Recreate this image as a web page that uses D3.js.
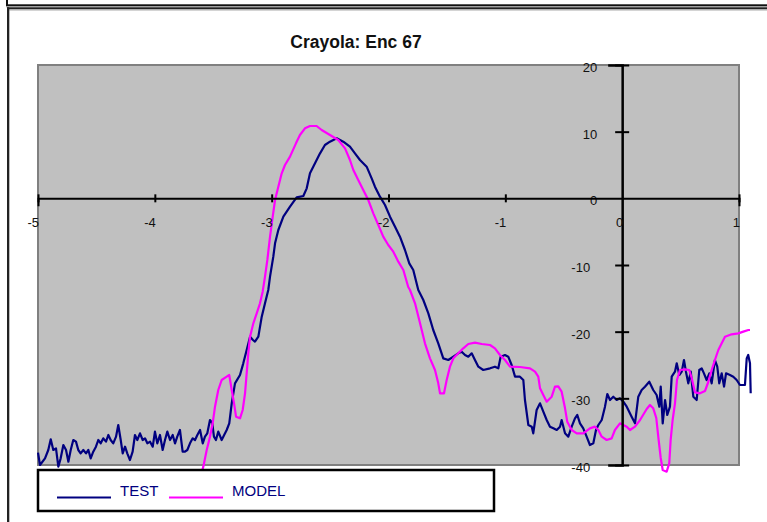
<!DOCTYPE html>
<html>
<head>
<meta charset="utf-8">
<script src="https://cdn.jsdelivr.net/npm/d3@7"></script>
<style>
  html, body { margin: 0; padding: 0; background: #fff; }
  svg { display: block; }
  text { font-family: "Liberation Sans", Arial, sans-serif; }
</style>
</head>
<body>
<svg id="chart" width="767" height="522"></svg>
<script>
const chartTitle = "Crayola: Enc 67";
const seriesNames = ["TEST", "MODEL"];
const seriesColors = ["#000080", "#FF00FF"];
const xTicks = [-5, -4, -3, -2, -1, 0, 1];
const yTicks = [20, 10, 0, -10, -20, -30, -40];

const testData = [
[-5.00,-38.15],[-4.983,-40.0],[-4.94,-39.0],[-4.912,-37.75],[-4.891,-36.15],[-4.869,-37.75],[-4.846,-37.5],[-4.826,-40.25],[-4.806,-39.0],[-4.783,-37.0],[-4.76,-37.75],[-4.74,-39.5],[-4.72,-37.75],[-4.698,-36.25],[-4.675,-36.5],[-4.655,-37.75],[-4.635,-38.25],[-4.612,-37.75],[-4.589,-38.25],[-4.569,-37.75],[-4.549,-39.0],[-4.527,-38.0],[-4.504,-37.25],[-4.484,-36.25],[-4.463,-36.75],[-4.441,-36.0],[-4.418,-36.5],[-4.398,-35.5],[-4.378,-36.25],[-4.356,-36.75],[-4.332,-35.75],[-4.313,-34.0],[-4.292,-36.25],[-4.275,-38.25],[-4.255,-37.25],[-4.236,-38.25],[-4.213,-39.25],[-4.19,-38.0],[-4.17,-35.5],[-4.15,-36.25],[-4.127,-35.25],[-4.104,-36.25],[-4.084,-36.0],[-4.064,-36.75],[-4.041,-36.5],[-4.018,-37.25],[-3.999,-35.0],[-3.979,-36.75],[-3.956,-35.5],[-3.933,-37.75],[-3.913,-36.25],[-3.893,-35.0],[-3.87,-36.25],[-3.847,-35.5],[-3.827,-36.75],[-3.808,-35.75],[-3.785,-34.75],[-3.762,-38.0],[-3.742,-38.0],[-3.722,-37.75],[-3.699,-36.75],[-3.676,-36.0],[-3.656,-36.25],[-3.636,-35.5],[-3.613,-34.75],[-3.59,-36.75],[-3.571,-35.75],[-3.551,-35.25],[-3.528,-33.25],[-3.508,-33.75],[-3.494,-35.75],[-3.477,-36.25],[-3.457,-35.0],[-3.428,-36.25],[-3.414,-35.75],[-3.385,-34.75],[-3.363,-33.75],
[-3.342,-30.75],[-3.314,-27.75],[-3.271,-26.5],[-3.243,-24.75],[-3.214,-22.75],[-3.185,-20.75],[-3.16,-21.25],[-3.143,-21.5],[-3.114,-20.75],[-3.085,-17.75],[-3.057,-15.75],[-3.029,-13.75],[-3.014,-11.75],[-2.986,-8.75],[-2.971,-6.75],[-2.943,-4.75],[-2.9,-2.75],[-2.843,-1.25],[-2.786,0.15],[-2.729,0.35],[-2.7,1.5],[-2.672,3.75],[-2.629,5.25],[-2.586,6.75],[-2.544,8.0],[-2.501,8.5],[-2.443,9.0],[-2.387,8.5],[-2.33,7.75],[-2.287,6.75],[-2.244,5.75],[-2.187,4.75],[-2.144,3.0],[-2.116,1.75],[-2.073,0.25],[-2.03,-1.0],[-1.987,-2.75],[-1.944,-4.25],[-1.902,-5.75],[-1.859,-7.75],[-1.822,-9.75],[-1.788,-10.75],[-1.745,-13.75],[-1.702,-15.25],[-1.659,-17.25],[-1.617,-19.75],[-1.574,-21.75],[-1.531,-24.0],[-1.488,-24.25],[-1.445,-23.75],[-1.403,-23.25],[-1.374,-23.0],[-1.345,-23.5],[-1.317,-23.75],[-1.288,-23.25],[-1.26,-24.25],[-1.231,-25.25],[-1.189,-25.75],[-1.131,-25.5],[-1.089,-25.25],[-1.06,-25.5],[-1.04,-23.75],[-1.003,-23.5],[-0.975,-23.75],[-0.946,-25.0],[-0.917,-26.75],[-0.875,-26.75],[-0.846,-27.25],[-0.832,-30.25],[-0.803,-34.0],[-0.774,-34.25],[-0.761,-35.25],[-0.732,-31.75],[-0.703,-30.75],[-0.675,-32.0],[-0.646,-33.25],[-0.618,-34.25],[-0.589,-34.5],[-0.56,-34.75],[-0.532,-34.25],[-0.518,-33.25],[-0.489,-35.25],[-0.461,-35.75],[-0.432,-34.25],[-0.404,-33.0],[-0.384,-32.5],[-0.361,-33.75],[-0.333,-34.5],[-0.304,-35.75],[-0.276,-37.0],[-0.247,-36.75],[-0.224,-34.75],[-0.204,-34.0],[-0.175,-33.25],[-0.147,-31.25],[-0.127,-29.35],[-0.104,-30.25],[-0.076,-29.75],[-0.047,-30.25],[-0.019,-30.0],[0.01,-30.5],[0.039,-31.25],[0.081,-32.75],[0.11,-33.75],[0.138,-29.75],[0.167,-28.75],[0.195,-28.25],[0.232,-27.5],[0.266,-28.75],[0.295,-29.5],[0.318,-31.25],[0.33,-28.25],[0.347,-33.75],[0.367,-30.25],[0.386,-32.5],[0.409,-31.25],[0.424,-26.75],[0.452,-26.0],[0.467,-24.75],[0.489,-26.5],[0.51,-26.0],[0.529,-24.25],[0.546,-26.0],[0.566,-27.75],[0.587,-26.0],[0.609,-29.75],[0.638,-30.25],[0.66,-25.75],[0.681,-25.5],[0.7,-26.25],[0.723,-27.25],[0.746,-26.25],[0.766,-27.75],[0.78,-26.0],[0.794,-24.25],[0.814,-25.25],[0.831,-27.75],[0.852,-26.25],[0.872,-28.25],[0.889,-26.25],[0.923,-26.5],[0.951,-26.75],[0.98,-27.25],[1.008,-28.0],[1.051,-28.0],[1.066,-24.0],[1.079,-23.5],[1.094,-24.75],[1.1,-29.25]
];

const modelData = [
[-3.605,-41.5],[-3.585,-40.25],[-3.556,-37.75],[-3.528,-35.75],[-3.505,-33.75],[-3.485,-31.25],[-3.457,-28.75],[-3.428,-27.25],[-3.385,-26.75],[-3.363,-26.5],[-3.342,-28.75],[-3.322,-30.75],[-3.305,-32.75],[-3.271,-33.0],[-3.248,-31.75],[-3.228,-29.25],[-3.214,-26.25],[-3.2,-23.25],[-3.185,-20.75],[-3.157,-18.75],[-3.128,-17.25],[-3.1,-15.75],[-3.077,-14.0],[-3.057,-11.75],[-3.037,-9.25],[-3.014,-5.75],[-2.991,-2.75],[-2.971,-0.25],[-2.943,1.75],[-2.914,3.75],[-2.886,5.0],[-2.843,6.25],[-2.792,8.25],[-2.758,9.5],[-2.715,10.5],[-2.672,10.85],[-2.615,10.85],[-2.572,10.25],[-2.501,9.5],[-2.43,8.75],[-2.372,7.5],[-2.33,5.75],[-2.301,4.25],[-2.259,2.75],[-2.216,1.25],[-2.173,-0.25],[-2.13,-2.25],[-2.087,-4.0],[-2.045,-5.75],[-2.002,-7.0],[-1.959,-8.0],[-1.916,-9.5],[-1.873,-10.75],[-1.831,-13.3],[-1.816,-13.75],[-1.773,-15.75],[-1.73,-18.75],[-1.688,-21.75],[-1.645,-24.0],[-1.602,-25.75],[-1.574,-27.75],[-1.559,-29.25],[-1.525,-29.25],[-1.502,-27.25],[-1.474,-25.25],[-1.445,-24.0],[-1.403,-23.25],[-1.36,-22.5],[-1.317,-21.85],[-1.26,-21.65],[-1.202,-21.85],[-1.131,-22.0],[-1.089,-22.5],[-1.046,-23.5],[-1.003,-24.25],[-0.96,-25.25],[-0.875,-25.3],[-0.789,-25.5],[-0.746,-26.0],[-0.718,-26.75],[-0.703,-28.5],[-0.675,-29.5],[-0.646,-30.5],[-0.603,-29.75],[-0.575,-28.25],[-0.547,-28.2],[-0.518,-29.0],[-0.489,-31.5],[-0.47,-33.5],[-0.432,-34.75],[-0.389,-35.25],[-0.333,-35.25],[-0.276,-34.5],[-0.233,-34.25],[-0.204,-34.75],[-0.175,-35.75],[-0.133,-36.25],[-0.09,-36.0],[-0.062,-34.75],[-0.019,-33.75],[0.039,-34.25],[0.067,-34.75],[0.11,-34.25],[0.153,-33.25],[0.21,-31.6],[0.238,-31.0],[0.266,-31.5],[0.292,-32.95],[0.309,-35.75],[0.33,-38.95],[0.347,-40.75],[0.381,-41.0],[0.403,-39.75],[0.415,-36.25],[0.432,-33.25],[0.452,-30.75],[0.469,-27.25],[0.495,-25.75],[0.538,-25.65],[0.574,-25.75],[0.595,-26.95],[0.623,-29.1],[0.666,-29.25],[0.709,-28.9],[0.737,-27.55],[0.766,-25.75],[0.794,-24.25],[0.823,-22.75],[0.852,-21.75],[0.88,-20.75],[0.937,-20.4],[0.994,-20.25],[1.037,-20.0],[1.08,-19.75],[1.094,-19.75]
];

const svg = d3.select("#chart");
const W = 767, H = 522;
const plot = { left: 38, right: 739, top: 65, bottom: 465 };
const hyphenFormat = d => String(d);  // plain ASCII hyphen-minus, as in the original

// outer frames
svg.append("rect").attr("x", 6).attr("y", 0).attr("width", 2).attr("height", 6).attr("fill", "#111");
svg.append("rect").attr("x", 6).attr("y", 4.3).attr("width", W - 6).attr("height", 1.8).attr("fill", "#111");
svg.append("rect").attr("x", 6).attr("y", 6.1).attr("width", W - 6).attr("height", 1.2).attr("fill", "#999");
svg.append("rect").attr("x", 7).attr("y", 7.3).attr("width", W - 7).attr("height", 2).attr("fill", "#222");
svg.append("rect").attr("x", 9.3).attr("y", 9.3).attr("width", W - 9.3).attr("height", 1.2).attr("fill", "#aaa");
svg.append("rect").attr("x", 7).attr("y", 7.3).attr("width", 2.3).attr("height", H).attr("fill", "#222");

const x = d3.scaleLinear().domain([-5, 1]).range([plot.left, plot.right]);
const y = d3.scaleLinear().domain([-40, 20]).range([plot.bottom, plot.top]);

// plot area
svg.append("rect")
  .attr("x", plot.left).attr("y", plot.top)
  .attr("width", plot.right - plot.left).attr("height", plot.bottom - plot.top)
  .attr("fill", "#C0C0C0").attr("stroke", "#808080").attr("stroke-width", 2);

// title
svg.append("text")
  .attr("x", 356).attr("y", 48)
  .attr("text-anchor", "middle")
  .attr("font-size", 17.5).attr("font-weight", "bold").attr("fill", "#111")
  .text(chartTitle);

// series lines
const line = d3.line().x(d => x(d[0])).y(d => y(d[1]));
[testData, modelData].forEach((data, i) => {
  svg.append("path")
    .datum(data)
    .attr("fill", "none")
    .attr("stroke", seriesColors[i])
    .attr("stroke-width", 2.2)
    .attr("stroke-linejoin", "round")
    .attr("d", line);
});

// x axis at y=0
const xAxis = d3.axisBottom(x).tickValues(xTicks).tickSize(8).tickFormat(hyphenFormat);
const gx = svg.append("g").attr("transform", `translate(0,${y(0)})`).call(xAxis);
gx.select(".domain").attr("stroke", "#000").attr("stroke-width", 2);
gx.selectAll(".tick line").attr("y1", -4).attr("y2", 4).attr("stroke", "#000").attr("stroke-width", 2)
  .filter(d => d === 0).remove();
gx.selectAll(".tick text")
  .attr("text-anchor", "end").attr("x", 0.5).attr("y", 29).attr("dy", null)
  .attr("font-size", 13).attr("fill", "#111")
  .style("font-family", '"Liberation Sans", Arial, sans-serif');

// y axis at x=0
const yAxis = d3.axisLeft(y).tickValues(yTicks).tickSize(14).tickFormat(hyphenFormat);
const gy = svg.append("g").attr("transform", `translate(${x(0)},0)`).call(yAxis);
gy.select(".domain").attr("stroke", "#000").attr("stroke-width", 2.5);
gy.selectAll(".tick line").attr("x1", -7).attr("x2", 7).attr("stroke", "#000").attr("stroke-width", 2)
  .filter(d => d === 0).remove();
gy.selectAll(".tick text")
  .attr("text-anchor", "end")
  .attr("x", d => d < 0 ? -32 : -25)
  .attr("y", 6.5).attr("dy", null)
  .attr("font-size", 13).attr("fill", "#111")
  .style("font-family", '"Liberation Sans", Arial, sans-serif');
// keep x-axis line above the "0" label
gx.raise();

// legend
const lg = svg.append("g");
lg.append("rect").attr("x", 38).attr("y", 470).attr("width", 456).attr("height", 41)
  .attr("fill", "#fff").attr("stroke", "#000").attr("stroke-width", 2.5);
const legendItems = [
  { x1: 57, x2: 111, tx: 120 },
  { x1: 169, x2: 223, tx: 232 }
];
legendItems.forEach((it, i) => {
  lg.append("line").attr("x1", it.x1).attr("x2", it.x2).attr("y1", 497.5).attr("y2", 497.5)
    .attr("stroke", seriesColors[i]).attr("stroke-width", 2);
  lg.append("text").attr("x", it.tx).attr("y", 496)
    .attr("font-size", 15).attr("fill", "#000080")
    .text(seriesNames[i]);
});
</script>
</body>
</html>
